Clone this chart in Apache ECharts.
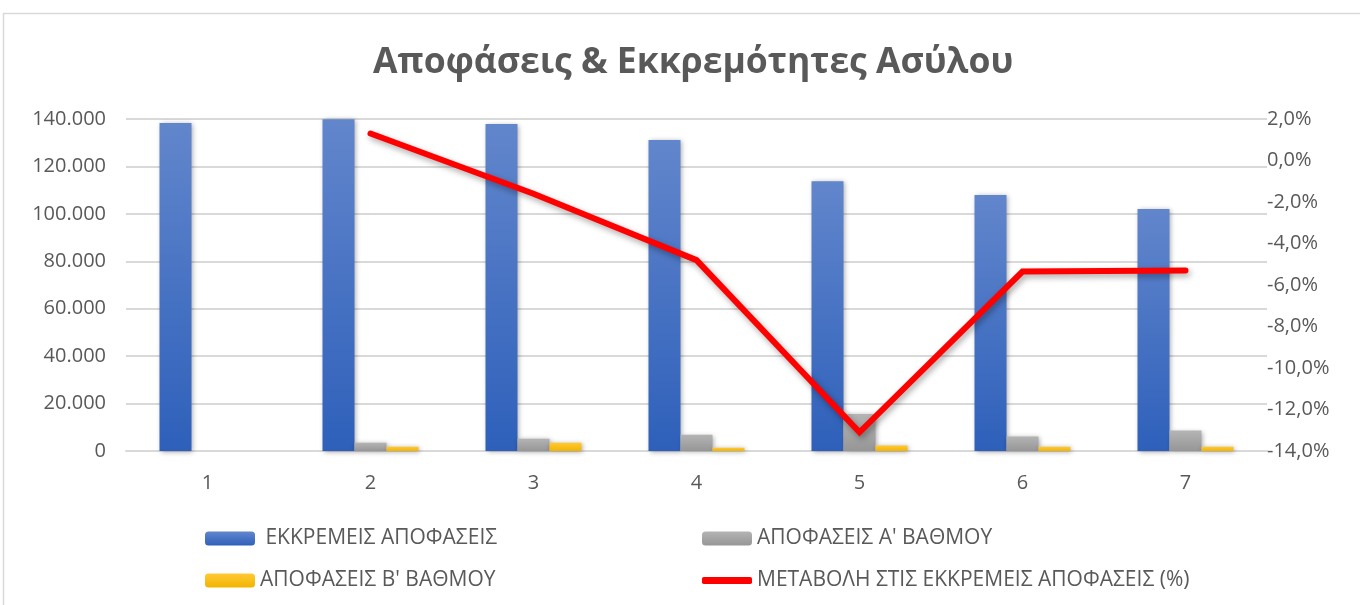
<!DOCTYPE html>
<html><head><meta charset="utf-8">
<script src="https://cdn.jsdelivr.net/npm/echarts@6/dist/echarts.min.js"></script>
<style>html,body{margin:0;padding:0;background:#fff}#c{width:1360px;height:605px}</style>
</head><body><div id="c"></div>
<script>
const categories = ['1','2','3','4','5','6','7'];
const pending = [138300, 139900, 137900, 131100, 113800, 107900, 102000];
const firstInstance = [null, 3500, 5200, 6900, 15600, 6100, 8600];
const secondInstance = [null, 1800, 3500, 1400, 2300, 1800, 1800];
const changePct = [null, 1.3, -1.6, -4.8, -13.1, -5.35, -5.3];
const seriesNames = [' ΕΚΚΡΕΜΕΙΣ ΑΠΟΦΑΣΕΙΣ', 'ΑΠΟΦΑΣΕΙΣ Α\' ΒΑΘΜΟΥ', 'ΑΠΟΦΑΣΕΙΣ Β\' ΒΑΘΜΟΥ', 'ΜΕΤΑΒΟΛΗ ΣΤΙΣ ΕΚΚΡΕΜΕΙΣ ΑΠΟΦΑΣΕΙΣ (%)'];
const titleText = 'Αποφάσεις & Εκκρεμότητες Ασύλου';

const chart = echarts.init(document.getElementById('c'));
const txt = '#595959';
const fam = '"Open Sans", "Liberation Sans", sans-serif';
function grad(a, b) {
  return new echarts.graphic.LinearGradient(0, 0, 0, 1, [{offset: 0, color: a}, {offset: 1, color: b}]);
}
const barShadow = {shadowColor: 'rgba(0,0,0,0.35)', shadowBlur: 5, shadowOffsetX: 1, shadowOffsetY: 1};
const legendBase = {itemWidth: 50, itemHeight: 14, itemGap: 6,
  textStyle: {color: txt, fontSize: 21, fontFamily: fam}};
chart.setOption({
  animation: false,
  graphic: [{type: 'rect', shape: {x: 3.5, y: 13.5, width: 1400, height: 700},
    style: {fill: 'none', stroke: '#d9d9d9', lineWidth: 1.5}, silent: true}],
  title: {text: titleText, left: 368, top: 40,
    textStyle: {color: txt, fontSize: 35.5, fontWeight: 'bold', fontFamily: fam}},
  legend: [
    Object.assign({}, legendBase, {left: 200, top: 523, data: [seriesNames[0]]}),
    Object.assign({}, legendBase, {left: 697, top: 523, data: [seriesNames[1]]}),
    Object.assign({}, legendBase, {left: 200, top: 565, data: [seriesNames[2]]}),
    Object.assign({}, legendBase, {left: 697, top: 565, itemHeight: 7,
      data: [{name: seriesNames[3], icon: 'roundRect'}]})
  ],
  grid: {left: 126, right: 93, top: 119, bottom: 154, containLabel: false},
  xAxis: {type: 'category', data: categories,
    axisLine: {show: true, lineStyle: {color: '#d9d9d9', width: 2}},
    axisTick: {show: false},
    axisLabel: {color: txt, fontSize: 20, fontFamily: fam, margin: 22}},
  yAxis: [
    {type: 'value', min: 0, max: 140000, interval: 20000,
      axisLine: {show: false}, axisTick: {show: false},
      splitLine: {lineStyle: {color: '#d9d9d9', width: 2}},
      axisLabel: {color: txt, fontSize: 20, fontFamily: fam, margin: 20,
        formatter: v => v === 0 ? '0' : v.toLocaleString('de-DE')}},
    {type: 'value', min: -14, max: 2, interval: 2,
      axisLine: {show: false}, axisTick: {show: false}, splitLine: {show: false},
      axisLabel: {color: txt, fontSize: 20, fontFamily: fam, margin: 0,
        formatter: v => v.toFixed(1).replace('.', ',') + '%'}}
  ],
  series: [
    {name: seriesNames[0], type: 'bar', data: pending, barWidth: 32, barGap: '0%',
      itemStyle: Object.assign({color: grad('#6286cc', '#2e60ba')}, barShadow)},
    {name: seriesNames[1], type: 'bar', data: firstInstance, barWidth: 32, barGap: '0%',
      itemStyle: Object.assign({color: grad('#b4b4b4', '#969696')}, barShadow)},
    {name: seriesNames[2], type: 'bar', data: secondInstance, barWidth: 32, barGap: '0%',
      itemStyle: Object.assign({color: grad('#ffc935', '#f2b400')}, barShadow)},
    {name: seriesNames[3], type: 'line', yAxisIndex: 1, data: changePct, showSymbol: false,
      symbol: 'none', connectNulls: false, color: '#ff0000',
      lineStyle: {color: '#ff0000', width: 6, cap: 'round', join: 'miter',
        shadowColor: 'rgba(0,0,0,0.35)', shadowBlur: 6, shadowOffsetX: 2, shadowOffsetY: 3}}
  ]
});
</script></body></html>
